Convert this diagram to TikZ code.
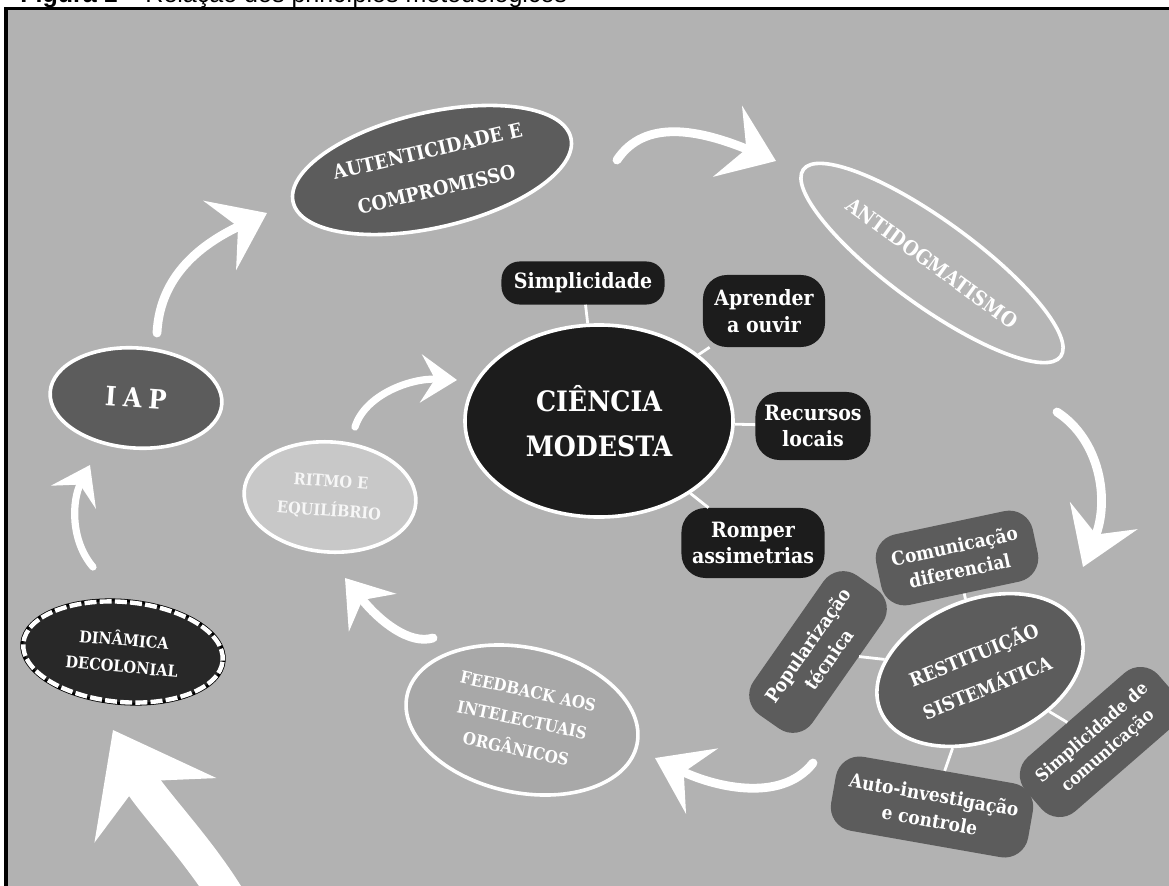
\documentclass[tikz,border=0pt]{standalone}
\usepackage{fontspec}
\setmainfont{DejaVu Serif Condensed}
\newfontfamily\capfont{Liberation Sans}
\usetikzlibrary{arrows.meta,shapes.geometric}
\definecolor{bggray}{RGB}{178,178,178}
\definecolor{midgray}{RGB}{92,92,92}
\definecolor{boxblack}{RGB}{28,28,28}
\definecolor{decoblack}{RGB}{40,40,40}
\definecolor{palegray}{RGB}{200,200,200}
\definecolor{feedgray}{RGB}{168,168,168}
\definecolor{antigray}{RGB}{182,182,182}

\begin{document}
\begin{tikzpicture}[x=0.025cm,y=-0.025cm,
    ell/.style={ellipse,draw=white,line width=0.09cm,inner sep=0pt,align=center,text=white},
    pill/.style={rectangle,rounded corners=0.6cm,inner sep=0pt,align=center,text=white,
      font=\bfseries\fontsize{15}{19}\selectfont},
    blackpill/.style={pill,fill=boxblack},
    graypill/.style={pill,fill=midgray,font=\bfseries\fontsize{13.5}{18}\selectfont},
    link/.style={draw=white,line width=0.07cm},
    warrow/.style={white,line width=0.22cm,line cap=round}
  ]
  \useasboundingbox (0,0) rectangle (1169,886);
  \begin{scope}
  \clip (0,0) rectangle (1169,886);
  % frame and caption
  \fill[bggray] (7,10) rectangle (1180,900);
  \draw[black,line width=0.075cm] (6,900) -- (6,9) -- (1180,9);
  \node[anchor=base west,inner sep=0pt,font=\capfont\fontsize{17.8}{20}\selectfont] (cap) at (20,2.5)
    {\textbf{Figura 1} – Relação dos princípios metodológicos};

  % outer cycle
  \node[ell,fill=midgray,minimum width=7.125cm,minimum height=2.875cm,rotate=13,
    font=\bfseries\fontsize{14}{28}\selectfont] (aut) at (432,170) {AUTENTICIDADE E\\COMPROMISSO};
  \node[ell,fill=antigray,minimum width=7.95cm,minimum height=2.125cm,rotate=-36,
    font=\bfseries\fontsize{14.5}{18}\selectfont] (anti) at (932,263) {ANTIDOGMATISMO};
  \node[ell,fill=midgray,minimum width=4.3cm,minimum height=2.5cm,rotate=-4,
    font=\bfseries\fontsize{19}{24}\selectfont\addfontfeature{LetterSpace=25}] (iap) at (136,398) {IAP};
  \node[ell,fill=decoblack,draw=white,line width=0.11cm,dash pattern=on 0.3cm off 0.08cm,
    preaction={draw=black,solid,line width=0.15cm},minimum width=5cm,minimum height=2.5cm,
    rotate=-5,font=\bfseries\fontsize{11.5}{19}\selectfont] (dina) at (123,652) {DINÂMICA\\DECOLONIAL};
  \node[ell,fill=palegray,text=white!94!gray,minimum width=4.3cm,minimum height=2.75cm,rotate=-4,
    font=\bfseries\fontsize{11.5}{21}\selectfont] (ritmo) at (330,497) {RITMO E\\EQUILÍBRIO};
  \node[ell,fill=feedgray,minimum width=5.875cm,minimum height=3.625cm,rotate=-12,
    font=\bfseries\fontsize{12}{21}\selectfont] (feed) at (522,720) {FEEDBACK AOS\\INTELECTUAIS\\ORGÂNICOS};

  % centre: ciencia modesta
  \node[ell,fill=boxblack,minimum width=6.7cm,minimum height=4.8cm,
    font=\bfseries\fontsize{20}{32}\selectfont] (cien) at (599,421) {CIÊNCIA\\MODESTA};
  \node[blackpill,rounded corners=0.45cm,minimum width=4.075cm,minimum height=1.075cm] (simp) at (583,283) {Simplicidade};
  \node[blackpill,minimum width=3.05cm,minimum height=1.8cm] (apre) at (764,311) {Aprender\\a ouvir};
  \node[blackpill,minimum width=2.875cm,minimum height=1.7cm] (recu) at (813,426) {Recursos\\locais};
  \node[blackpill,minimum width=3.575cm,minimum height=1.75cm] (romp) at (753,543) {Romper\\assimetrias};
  \draw[link] (cien) -- (simp);
  \draw[link] (cien) -- (apre);
  \draw[link] (cien) -- (recu);
  \draw[link] (cien) -- (romp);

  % restituicao sistematica
  \node[ell,fill=midgray,minimum width=5.375cm,minimum height=3.5cm,rotate=22,
    font=\bfseries\fontsize{13.5}{25}\selectfont] (rest) at (980,670) {RESTITUIÇÃO\\SISTEMÁTICA};
  \node[graypill,minimum width=4cm,minimum height=1.8cm,rotate=12] (comu) at (957,558) {Comunicação\\diferencial};
  \node[graypill,minimum width=4.25cm,minimum height=1.8cm,rotate=55] (popu) at (818,652) {Popularização\\técnica};
  \node[graypill,minimum width=4.4cm,minimum height=1.8cm,rotate=41,
    font=\bfseries\fontsize{12.5}{17}\selectfont] (simc) at (1100,742) {Simplicidade de\\comunicação};
  \node[graypill,minimum width=5cm,minimum height=1.875cm,rotate=-10] (auto) at (932,807) {Auto-investigação\\e controle};
  \draw[link] (rest) -- (comu);
  \draw[link] (rest) -- (popu);
  \draw[link] (rest) -- (simc);
  \draw[link] (rest) -- (auto);

  % white arrows
  \coordinate (a1s) at (617,160);  \coordinate (a1e) at (776,161);
  \coordinate (a2s) at (1057,412); \coordinate (a2e) at (1083,567);
  \coordinate (a3s) at (813,763);  \coordinate (a3e) at (655,758);
  \coordinate (a4s) at (433,638);  \coordinate (a4e) at (345,578);
  \coordinate (a5s) at (355,427);  \coordinate (a5e) at (457,380);
  \coordinate (a6s) at (232,905);  \coordinate (a6e) at (113,730);
  \coordinate (a7s) at (93,567);   \coordinate (a7e) at (90,465);
  \coordinate (a8s) at (157,333);  \coordinate (a8e) at (267,213);
  \draw[warrow,-{Stealth[length=1.3cm,width=1.9cm,inset=0.5cm]}] (a1s) .. controls (645,118) and (700,130) .. (a1e);
  \draw[warrow,-{Stealth[length=1.375cm,width=1.8cm,inset=0.5cm]}] (a2s) .. controls (1100,440) and (1110,500) .. (a2e);
  \draw[warrow,-{Stealth[length=1.3cm,width=1.8cm,inset=0.5cm]}] (a3s) .. controls (780,805) and (710,785) .. (a3e);
  \draw[warrow,-{Stealth[length=1.1cm,width=1.5cm,inset=0.4cm]}] (a4s) .. controls (410,645) and (380,622) .. (a4e);
  \draw[warrow,line width=0.18cm,-{Stealth[length=0.9cm,width=1.2cm,inset=0.35cm]}] (a5s) .. controls (365,395) and (410,378) .. (a5e);
  \draw[warrow,line width=0.875cm,line cap=butt,-{Stealth[length=2.25cm,width=3.4cm,inset=0.8cm]}] (a6s) .. controls (200,850) and (150,800) .. (a6e);
  \draw[warrow,line width=0.18cm,-{Stealth[length=0.9cm,width=1.25cm,inset=0.35cm]}] (a7s) .. controls (70,540) and (72,500) .. (a7e);
  \draw[warrow,-{Stealth[length=1.3cm,width=1.9cm,inset=0.5cm]}] (a8s) .. controls (160,270) and (210,240) .. (a8e);
  \end{scope}
\end{tikzpicture}
\end{document}
